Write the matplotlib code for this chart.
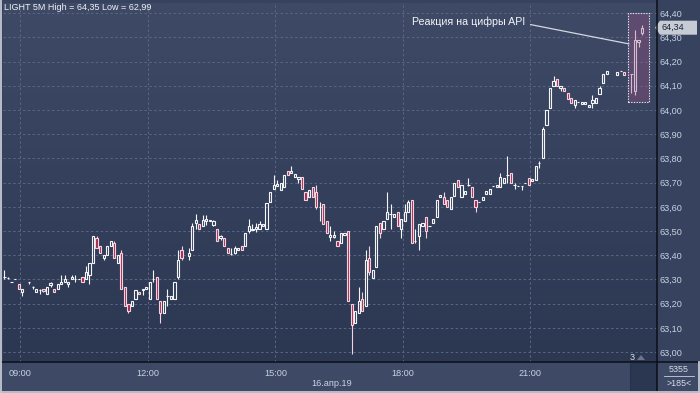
import numpy as np
import matplotlib
matplotlib.use('Agg')
import matplotlib.pyplot as plt
from matplotlib.patches import Rectangle, Polygon
from matplotlib.lines import Line2D
from matplotlib.colors import LinearSegmentedColormap
import matplotlib.transforms as mtransforms

# 5-minute bars, first bar opens 08:35 (minutes counted from 08:35)
opens = [
    63.31, 63.305, 63.29, 63.30, 63.28, 63.25, None, 63.29, 63.27, 63.25,
    63.255, 63.26, 63.24, 63.276, 63.26, 63.26, 63.28, 63.29, 63.28, 63.30,
    63.30, 63.30, 63.31, 63.30, 63.32, 63.37, 63.47, 63.44, 63.39, 63.40,
    63.44, 63.45, 63.37, 63.41, 63.27, 63.20, 63.19, 63.22, 63.25, 63.255,
    63.26, 63.22, 63.30, 63.31, 63.21, 63.16, 63.23, 63.22, 63.22, 63.31,
    63.42, None, 63.395, 63.42, 63.535, 63.53, 63.52, 63.54, 63.54, 63.525,
    63.51, 63.47, 63.47, 63.43, 63.405, 63.41, 63.42, 63.44, 63.44, 63.50,
    63.505, 63.51, 63.51, 63.52, 63.51, 63.62, 63.675, 63.685, 63.67, 63.68,
    63.75, 63.74, 63.725, 63.715, 63.725, 63.66, 63.64, 63.68, 63.66, 63.60,
    63.61, 63.54, 63.475, 63.475, 63.46, 63.45, 63.485, 63.50, 63.20, 63.12,
    63.16, 63.22, 63.19, 63.39, 63.305, 63.35, 63.535, 63.51, 63.55, 63.57,
    63.56, 63.58, 63.51, 63.54, 63.58, 63.63, 63.46, 63.48, 63.52, 63.56,
    63.52, 63.535, 63.56, 63.64, 63.64, 63.63, 63.59, 63.645, 63.71, 63.64,
    63.655, 63.69, 63.68, 63.63, 63.62, 63.63, 63.655, 63.655, 63.685, 63.68,
    63.68, 63.70, 63.73, 63.74, 63.69, 63.685, 63.685, 63.70, 63.72, 63.705,
    63.71, 63.78, 63.80, 63.94, 64.01, 64.10, 64.13, 64.09, 64.09, 64.07,
    64.05, 64.02, 64.035, 64.025, 64.025, 64.012, 64.03, 64.03, 64.065, 64.11,
    64.15, None, None, 64.145, 64.16, 64.155, None, 64.15, 64.08, 64.28, 64.32,
]
highs = [
    63.34, 63.31, 63.29, 63.30, 63.28, 63.26, None, 63.29, 63.275, 63.26,
    63.26, 63.26, 63.27, 63.29, 63.26, 63.28, 63.32, 63.32, 63.29, 63.32,
    63.32, 63.30, 63.31, 63.355, 63.37, 63.48, 63.48, 63.44, 63.40, 63.44,
    63.46, 63.46, 63.40, 63.42, 63.27, 63.20, 63.21, 63.255, 63.25, 63.26,
    63.27, 63.29, 63.34, 63.31, 63.21, 63.21, 63.26, 63.23, 63.29, 63.42,
    63.44, None, 63.43, 63.535, 63.57, 63.53, 63.565, 63.565, 63.545, 63.545,
    63.51, 63.485, 63.47, 63.43, 63.43, 63.44, 63.43, 63.44, 63.49, 63.55,
    63.53, 63.535, 63.54, 63.53, 63.615, 63.66, 63.73, 63.71, 63.70, 63.73,
    63.75, 63.77, 63.735, 63.725, 63.725, 63.66, 63.67, 63.68, 63.69, 63.62,
    63.61, 63.54, 63.52, 63.50, 63.46, 63.49, 63.49, 63.50, 63.20, 63.17,
    63.27, 63.25, 63.42, 63.44, 63.34, 63.52, 63.535, 63.54, 63.66, 63.61,
    63.57, 63.58, 63.55, 63.61, 63.63, 63.63, 63.51, 63.53, 63.535, 63.56,
    63.52, 63.55, 63.63, 63.65, 63.66, 63.63, 63.64, 63.70, 63.71, 63.69,
    63.665, 63.72, 63.68, 63.63, 63.62, 63.64, 63.665, 63.675, 63.685, 63.69,
    63.74, 63.72, 63.81, 63.74, 63.70, 63.685, 63.685, 63.70, 63.72, 63.715,
    63.77, 63.79, 63.93, 64.00, 64.09, 64.14, 64.13, 64.10, 64.09, 64.07,
    64.05, 64.04, 64.035, 64.035, 64.035, 64.02, 64.06, 64.05, 64.10, 64.15,
    64.16, None, None, 64.155, 64.16, 64.155, None, 64.15, 64.33, 64.29, 64.35,
]
lows = [
    63.30, 63.30, 63.29, 63.30, 63.26, 63.23, None, 63.28, 63.26, 63.25,
    63.24, 63.25, 63.24, 63.27, 63.25, 63.26, 63.28, 63.29, 63.27, 63.30,
    63.29, 63.30, 63.29, 63.30, 63.28, 63.37, 63.43, 63.41, 63.38, 63.40,
    63.44, 63.39, 63.37, 63.26, 63.19, 63.16, 63.19, 63.22, 63.24, 63.235,
    63.26, 63.22, 63.29, 63.22, 63.12, 63.16, 63.19, 63.22, 63.22, 63.30,
    63.38, None, 63.38, 63.42, 63.51, 63.51, 63.52, 63.525, 63.54, 63.52,
    63.46, 63.465, 63.44, 63.41, 63.40, 63.405, 63.42, 63.42, 63.44, 63.49,
    63.505, 63.495, 63.51, 63.52, 63.51, 63.62, 63.675, 63.685, 63.67, 63.68,
    63.73, 63.74, 63.725, 63.70, 63.675, 63.63, 63.64, 63.64, 63.59, 63.54,
    63.53, 63.49, 63.46, 63.47, 63.44, 63.45, 63.485, 63.21, 62.99, 63.12,
    63.16, 63.17, 63.19, 63.32, 63.305, 63.35, 63.47, 63.51, 63.55, 63.51,
    63.56, 63.52, 63.47, 63.54, 63.58, 63.45, 63.45, 63.42, 63.52, 63.47,
    63.52, 63.535, 63.56, 63.64, 63.61, 63.60, 63.59, 63.645, 63.68, 63.64,
    63.655, 63.685, 63.64, 63.58, 63.62, 63.63, 63.655, 63.655, 63.685, 63.68,
    63.68, 63.70, 63.70, 63.70, 63.675, 63.685, 63.67, 63.70, 63.69, 63.705,
    63.71, 63.76, 63.80, 63.94, 64.01, 64.10, 64.10, 64.08, 64.08, 64.045,
    64.03, 64.01, 64.035, 64.025, 64.025, 64.012, 64.01, 64.03, 64.065, 64.11,
    64.15, None, None, 64.145, 64.16, 64.145, None, 64.07, 64.06, 64.26, 64.31,
]
closes = [
    63.31, 63.305, 63.29, 63.30, 63.26, 63.26, None, 63.29, 63.27, 63.26,
    63.255, 63.252, 63.267, 63.286, 63.25, 63.28, 63.29, 63.30, 63.29, 63.31,
    63.30, 63.30, 63.29, 63.33, 63.366, 63.48, 63.43, 63.41, 63.40, 63.44,
    63.46, 63.39, 63.40, 63.26, 63.19, 63.17, 63.21, 63.255, 63.24, 63.26,
    63.27, 63.29, 63.30, 63.22, 63.16, 63.21, 63.23, 63.23, 63.29, 63.38,
    63.39, None, 63.41, 63.52, 63.545, 63.51, 63.545, 63.55, 63.545, 63.54,
    63.46, 63.48, 63.44, 63.41, 63.405, 63.43, 63.43, 63.42, 63.49, 63.52,
    63.51, 63.515, 63.53, 63.53, 63.615, 63.66, 63.69, 63.695, 63.70, 63.73,
    63.73, 63.75, 63.735, 63.725, 63.675, 63.63, 63.67, 63.64, 63.60, 63.60,
    63.53, 63.49, 63.485, 63.485, 63.44, 63.49, 63.49, 63.21, 63.11, 63.17,
    63.21, 63.17, 63.38, 63.33, 63.34, 63.52, 63.49, 63.54, 63.58, 63.57,
    63.57, 63.52, 63.55, 63.58, 63.62, 63.45, 63.46, 63.53, 63.535, 63.50,
    63.52, 63.55, 63.63, 63.65, 63.61, 63.60, 63.64, 63.70, 63.68, 63.69,
    63.665, 63.69, 63.64, 63.60, 63.62, 63.64, 63.665, 63.675, 63.685, 63.69,
    63.725, 63.72, 63.73, 63.70, 63.69, 63.685, 63.685, 63.70, 63.69, 63.715,
    63.77, 63.78, 63.92, 64.00, 64.09, 64.12, 64.10, 64.10, 64.08, 64.045,
    64.03, 64.04, 64.035, 64.035, 64.035, 64.02, 64.04, 64.05, 64.09, 64.15,
    64.16, None, None, 64.155, 64.16, 64.145, None, 64.15, 64.29, 64.29, 64.34,
]
bar_minutes = 5
time_ticks = [25, 205, 385, 565, 745]          # minutes after 08:35
time_labels = ['09:00', '12:00', '15:00', '18:00', '21:00']
price_ticks = [63.0, 63.1, 63.2, 63.3, 63.4, 63.5, 63.6, 63.7, 63.8, 63.9, 64.0, 64.1, 64.2, 64.3, 64.4]
last_price = 64.34
title = 'LIGHT 5M High = 64,35 Low = 62,99'
date_label = '16.апр.19'
note = 'Реакция на цифры API'

W, H = 700, 393
fig = plt.figure(figsize=(W / 100, H / 100), dpi=100, facecolor='#36425e')
ax = fig.add_axes([3 / W, 31 / H, 654 / W, 359 / H])
ax.set_facecolor('#34405b')

# vertical gradient background
cmap = LinearSegmentedColormap.from_list('bg', ['#2c3752', '#3e4a66'])
ax.imshow(np.linspace(0, 1, 256).reshape(-1, 1), cmap=cmap, origin='lower',
          extent=(0, 1, 0, 1), transform=ax.transAxes, aspect='auto', zorder=0)

UP_EDGE = '#f4f5f8'
DN_FACE = '#a3284e'
DN_EDGE = '#f2d2de'
bw = 0.62 * bar_minutes
for i, (o, h, l, c) in enumerate(zip(opens, highs, lows, closes)):
    if o is None:
        continue
    t = 2.5 + bar_minutes * i
    top, bot = max(o, c), min(o, c)
    up = c >= o
    ec = UP_EDGE if up else DN_EDGE
    fc = 'none' if up else DN_FACE
    if h > top:
        ax.vlines(t, top, h, color=ec, lw=0.8, zorder=3)
    if l < bot:
        ax.vlines(t, l, bot, color=ec, lw=0.8, zorder=3)
    ax.add_patch(Rectangle((t - bw / 2, bot), bw, top - bot, facecolor=fc,
                           edgecolor=ec, lw=0.8, zorder=4))

ax.set_xlim(0.4, 923.6)
ax.set_ylim(62.959, 64.442)
ax.set_xticks(time_ticks)
ax.set_xticklabels(time_labels)
ax.set_yticks(price_ticks)
ax.set_yticklabels([f'{p:.2f}'.replace('.', ',') for p in price_ticks])
ax.yaxis.tick_right()
ax.tick_params(axis='y', length=0, pad=1.5, labelsize=6.6, labelcolor='#c9d1e1')
ax.tick_params(axis='x', length=0, pad=5, labelsize=6.6, labelcolor='#c9d1e1')
for lab in ax.get_yticklabels():
    lab.set_fontfamily('Liberation Sans')
for lab in ax.get_xticklabels():
    lab.set_fontfamily('Liberation Sans')
ax.grid(True, color='#5a6784', linestyle=(0, (2.5, 2.5)), linewidth=0.7, zorder=1)
ax.set_axisbelow(True)
for s in ax.spines.values():
    s.set_visible(False)

# API reaction box and note
ax.add_patch(Rectangle((882.7, 64.033), 29.6, 0.368, facecolor=(0.62, 0.32, 0.52, 0.35),
                       edgecolor='#e8e8ee', lw=0.8, linestyle=(0, (1.2, 1.2)), zorder=5))
ax.annotate(note, xy=(884.1, 64.273), xytext=(737.3, 64.366),
            ha='right', va='center', fontsize=7.7, color='#f2f4f8', family='Liberation Sans',
            arrowprops=dict(arrowstyle='-', color='#d4d8e0', lw=0.9,
                            shrinkA=2, shrinkB=0, relpos=(1.0, 0.3)), zorder=6)

# last price tag on right scale
blend = mtransforms.blended_transform_factory(fig.transFigure, ax.transData)
dy = 0.029
tag = Polygon([(655 / W, last_price), (660 / W, last_price + dy), (697 / W, last_price + dy),
               (697 / W, last_price - dy), (660 / W, last_price - dy)],
              closed=True, facecolor='#c6cbd4', edgecolor='none', transform=blend,
              clip_on=False, zorder=10)
ax.add_patch(tag)
ax.text(661 / W, last_price, f'{last_price:.2f}'.replace('.', ','), transform=blend,
        ha='left', va='center', fontsize=6.6, color='#1b2538', family='Liberation Sans',
        clip_on=False, zorder=11)

# frame panels
fig.add_artist(Rectangle((0, 0), 1, 31 / H, transform=fig.transFigure,
                         facecolor='#3d4965', edgecolor='none', zorder=-1))
fig.add_artist(Rectangle((630 / W, 2 / H), 26 / W, 28 / H, transform=fig.transFigure,
                         facecolor='#2b3650', edgecolor='#252f46', lw=0.6, zorder=1))
fig.add_artist(Line2D([657 / W, 657 / W], [0, 1], transform=fig.transFigure,
                      color='#0b0f18', lw=1.1, zorder=3))
fig.add_artist(Line2D([0, 1], [31 / H, 31 / H], transform=fig.transFigure,
                      color='#0b0f18', lw=1.1, zorder=3))
fig.add_artist(Line2D([0.8 / W, 0.8 / W], [0, 1], transform=fig.transFigure,
                      color='#c3c9d3', lw=1.3, zorder=3))
fig.add_artist(Line2D([0, 1], [0.8 / H, 0.8 / H], transform=fig.transFigure,
                      color='#c3c9d3', lw=1.3, zorder=3))
fig.add_artist(Line2D([699.2 / W, 699.2 / W], [0, 31 / H], transform=fig.transFigure,
                      color='#c3c9d3', lw=1.3, zorder=3))
fig.add_artist(Line2D([664 / W, 694 / W], [1 - 376 / H, 1 - 376 / H], transform=fig.transFigure,
                      color='#c9d1e1', lw=0.6, zorder=3))

fig.text(4 / W, 1 - 8 / H, title, ha='left', va='center', fontsize=6.5,
         color='#eef1f6', family='Liberation Sans')
fig.text(332 / W, 1 - 383 / H, date_label, ha='center', va='center', fontsize=6.6,
         color='#c9d1e1', family='Liberation Sans')
fig.text(679 / W, 1 - 369 / H, '5355', ha='center', va='center', fontsize=6.4,
         color='#d5dcea', family='Liberation Sans')
fig.text(679 / W, 1 - 384 / H, '>185<', ha='center', va='center', fontsize=6.4,
         color='#d5dcea', family='Liberation Sans')
fig.text(632 / W, 1 - 357 / H, '3', ha='center', va='center', fontsize=6.4,
         color='#dde3ee', family='Liberation Sans')
fig.add_artist(Polygon([(637 / W, 1 - 360 / H), (641 / W, 1 - 355 / H), (645 / W, 1 - 360 / H)],
                       closed=True, transform=fig.transFigure, facecolor='#6a7590',
                       edgecolor='none', zorder=3))

fig.savefig('out.png', dpi=100, facecolor=fig.get_facecolor())
